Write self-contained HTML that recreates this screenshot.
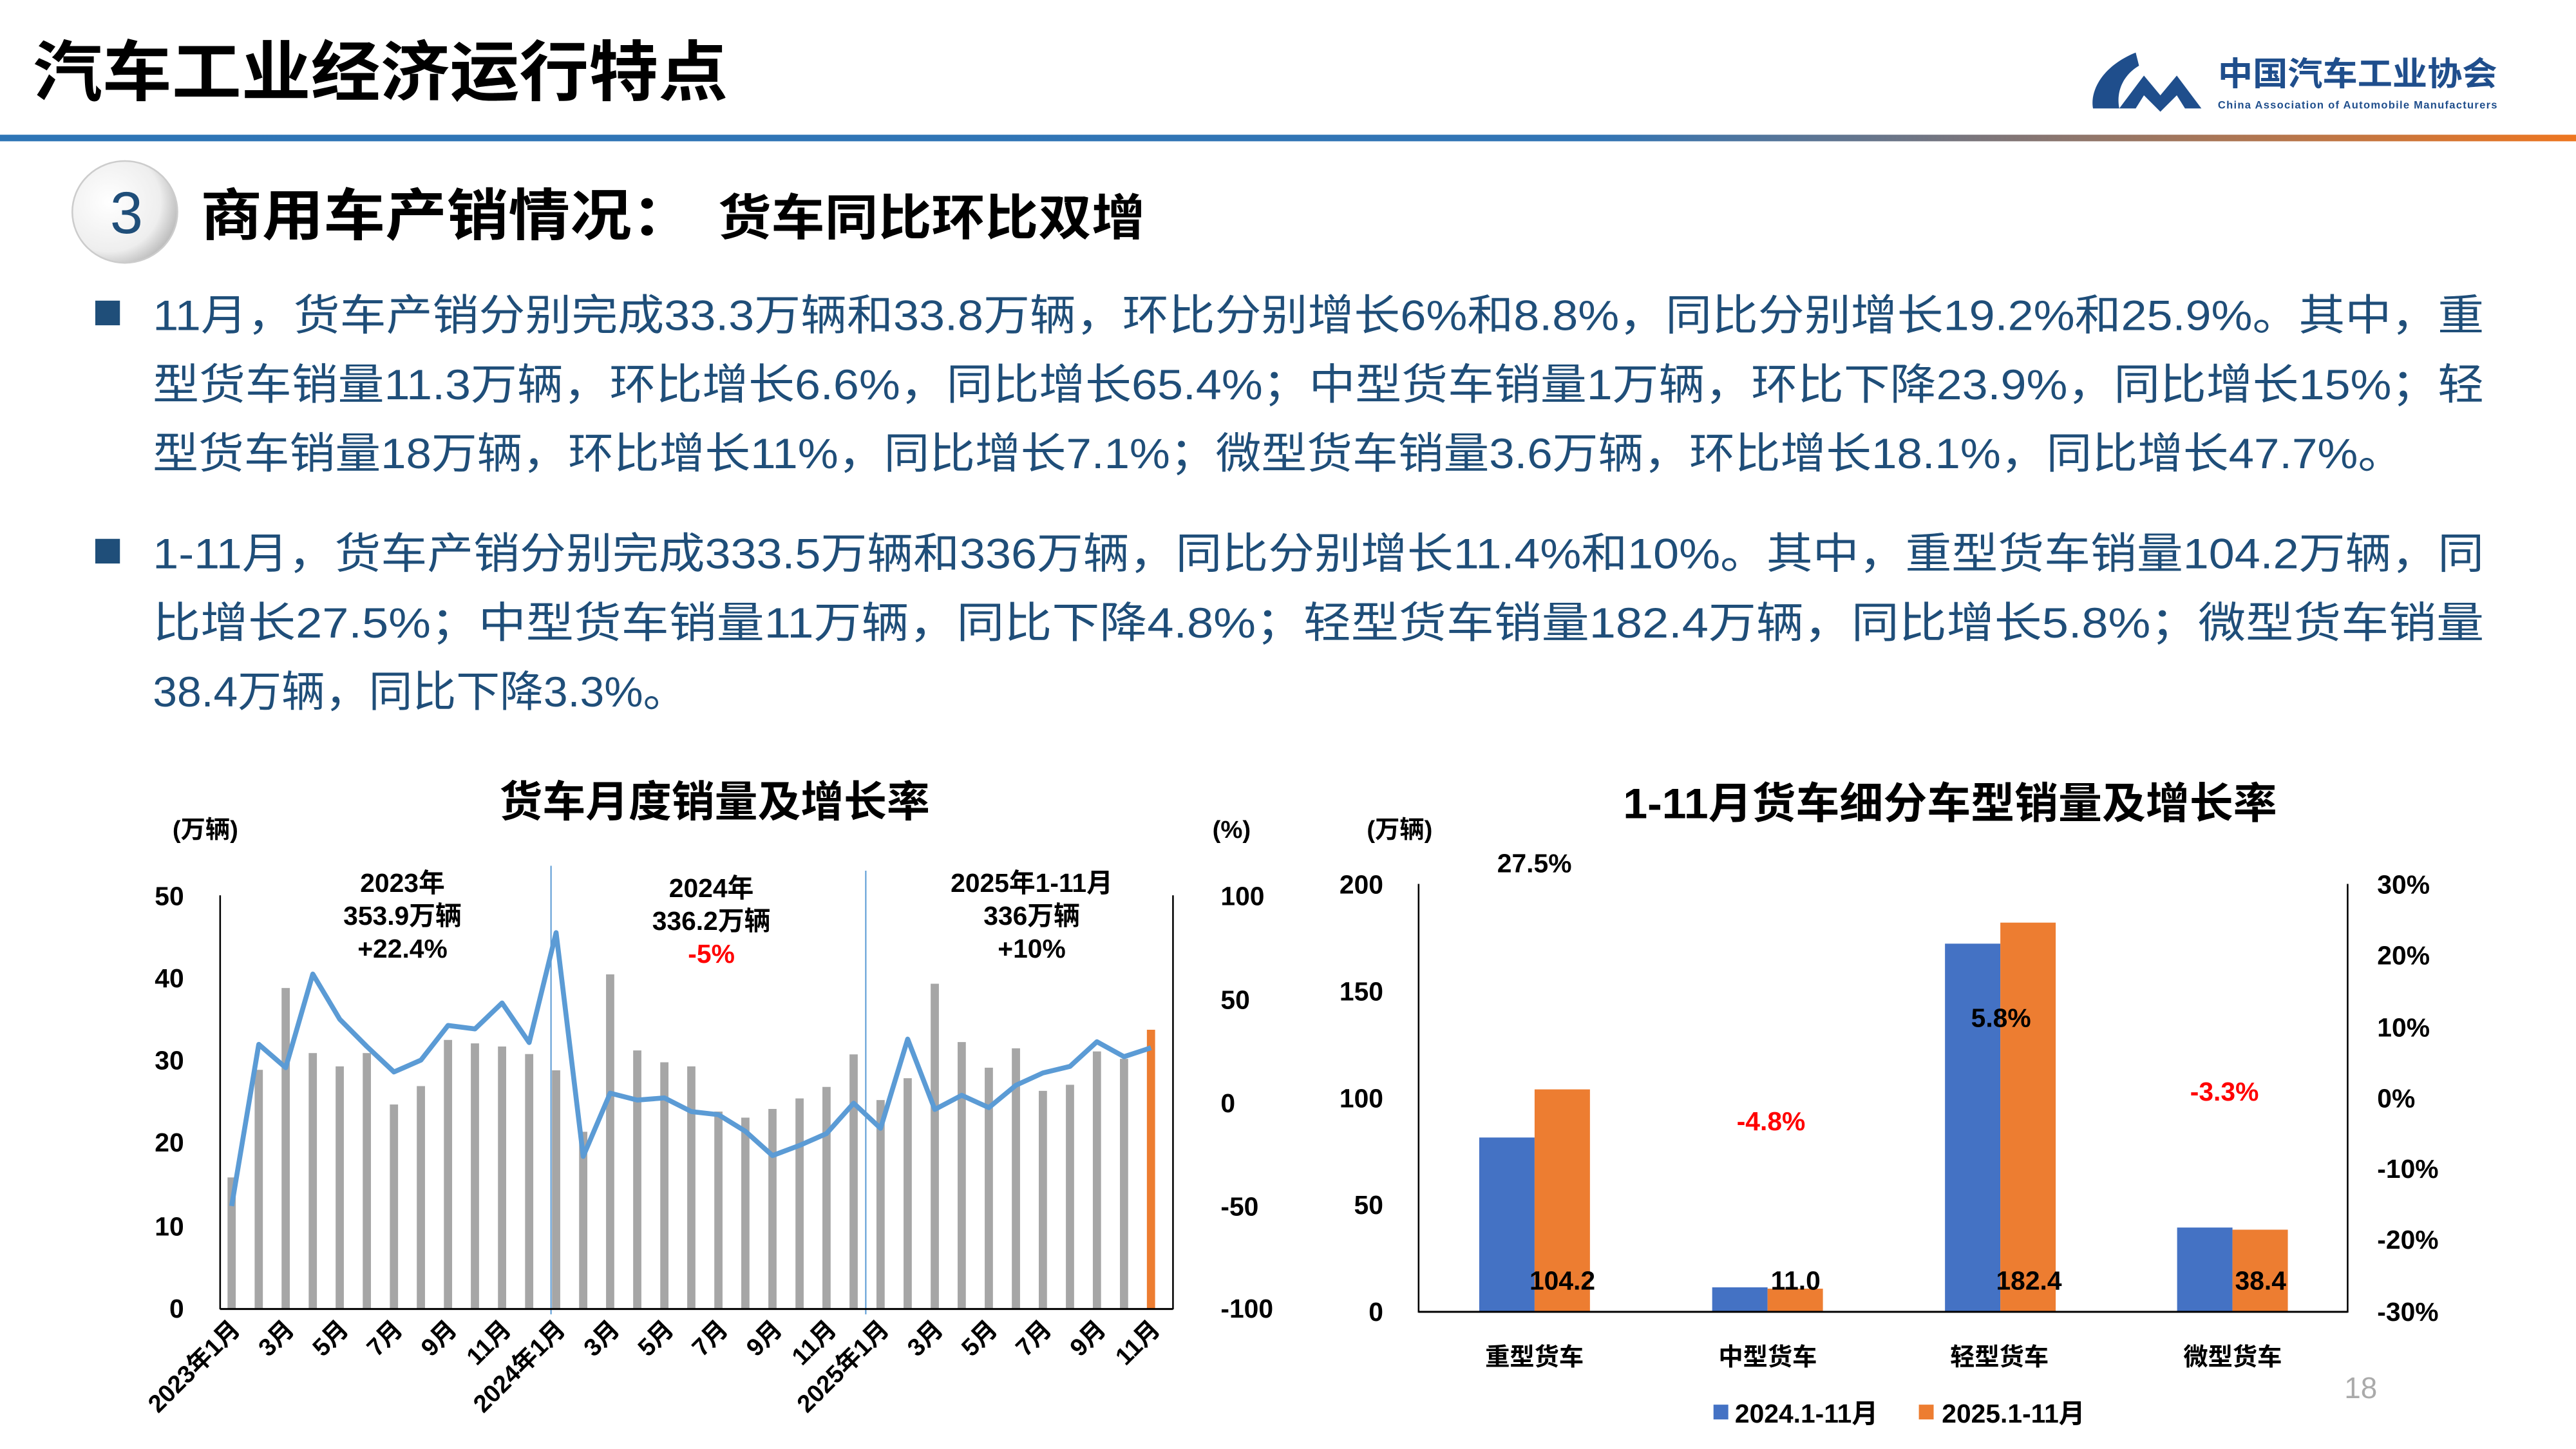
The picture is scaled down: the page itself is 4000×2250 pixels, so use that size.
<!DOCTYPE html>
<html><head><meta charset="utf-8"><style>
html,body{margin:0;padding:0;background:#fff}
svg{display:block}
text{font-family:"Liberation Sans","Noto Sans CJK SC",sans-serif}
</style></head><body>
<svg width="4000" height="2250" viewBox="0 0 1568 882" preserveAspectRatio="none" xmlns="http://www.w3.org/2000/svg">
<defs>
<linearGradient id="bar" x1="0" x2="1" y1="0" y2="0">
<stop offset="0" stop-color="#2e75b6"/><stop offset="0.62" stop-color="#3275b5"/><stop offset="1" stop-color="#ee7620"/></linearGradient>
<radialGradient id="circ" cx="0.35" cy="0.4" r="0.7"><stop offset="0" stop-color="#ffffff"/><stop offset="0.7" stop-color="#eeeeee"/><stop offset="1" stop-color="#b5b5b5"/></radialGradient>
</defs>
<rect width="1568" height="882" fill="#fff"/>
<text x="20" y="58" font-size="40" font-weight="bold" fill="#000" textLength="423" lengthAdjust="spacingAndGlyphs">汽车工业经济运行特点</text>
<path d="M1300 32 C1280 40 1272 55 1274 66 L1290 66 C1288 56 1292 46 1302 40 Z" fill="#1f4e8c"/>
<path d="M1290 66 L1305 46 L1315 58 L1325 46 L1340 66 L1330 66 L1325 58 L1315 68 L1305 58 L1300 66 Z" fill="#1f4e8c"/>
<text x="1350" y="52" font-size="20" font-weight="bold" fill="#1f4e8c" textLength="170" lengthAdjust="spacingAndGlyphs">中国汽车工业协会</text>
<text x="1350" y="66" font-size="6.5" font-weight="bold" fill="#1f4e8c" textLength="170">China Association of Automobile Manufacturers</text>
<rect x="0" y="82" width="1568" height="4" fill="url(#bar)"/>
<ellipse cx="76" cy="129" rx="32" ry="31" fill="url(#circ)" stroke="#ccc" stroke-width="1"/>
<text x="77" y="142" font-size="36" fill="#1f4e79" text-anchor="middle">3</text>
<text x="122" y="143" font-size="34" font-weight="bold" fill="#000" textLength="300" lengthAdjust="spacingAndGlyphs">商用车产销情况：</text>
<text x="437" y="143" font-size="30" font-weight="bold" fill="#000" textLength="260" lengthAdjust="spacingAndGlyphs">货车同比环比双增</text>
<rect x="58" y="183" width="15" height="15" fill="#1f4e79"/>
<rect x="58" y="328" width="15" height="15" fill="#1f4e79"/>
<g font-size="26" fill="#1f4e79">
<text x="93" y="201" textLength="1419" lengthAdjust="spacingAndGlyphs">11月，货车产销分别完成33.3万辆和33.8万辆，环比分别增长6%和8.8%，同比分别增长19.2%和25.9%。其中，重</text>
<text x="93" y="243" textLength="1419" lengthAdjust="spacingAndGlyphs">型货车销量11.3万辆，环比增长6.6%，同比增长65.4%；中型货车销量1万辆，环比下降23.9%，同比增长15%；轻</text>
<text x="93" y="285" textLength="1370" lengthAdjust="spacingAndGlyphs">型货车销量18万辆，环比增长11%，同比增长7.1%；微型货车销量3.6万辆，环比增长18.1%，同比增长47.7%。</text>
<text x="93" y="346" textLength="1419" lengthAdjust="spacingAndGlyphs">1-11月，货车产销分别完成333.5万辆和336万辆，同比分别增长11.4%和10%。其中，重型货车销量104.2万辆，同</text>
<text x="93" y="388" textLength="1419" lengthAdjust="spacingAndGlyphs">比增长27.5%；中型货车销量11万辆，同比下降4.8%；轻型货车销量182.4万辆，同比增长5.8%；微型货车销量</text>
<text x="93" y="430" textLength="325" lengthAdjust="spacingAndGlyphs">38.4万辆，同比下降3.3%。</text>
</g>
<!-- LEFT CHART -->
<text x="435" y="497" font-size="26" font-weight="bold" text-anchor="middle" textLength="262" lengthAdjust="spacingAndGlyphs">货车月度销量及增长率</text>
<text x="105" y="510" font-size="15" font-weight="bold">(万辆)</text>
<text x="738" y="510" font-size="15" font-weight="bold">(%)</text>
<g font-size="16" font-weight="bold" text-anchor="end">
<text x="112" y="551">50</text><text x="112" y="601">40</text><text x="112" y="651">30</text><text x="112" y="701">20</text><text x="112" y="752">10</text><text x="112" y="802">0</text>
</g>
<g font-size="16" font-weight="bold">
<text x="743" y="551">100</text><text x="743" y="614">50</text><text x="743" y="677">0</text><text x="743" y="740">-50</text><text x="743" y="802">-100</text>
</g>
<g fill="#a6a6a6">
<rect x="138.5" y="716.7" width="5" height="79.8"/>
<rect x="155" y="651.2" width="5" height="145.3"/>
<rect x="171.4" y="601.4" width="5" height="195.1"/>
<rect x="187.9" y="641" width="5" height="155.5"/>
<rect x="204.3" y="649.1" width="5" height="147.4"/>
<rect x="220.8" y="641" width="5" height="155.5"/>
<rect x="237.3" y="672.3" width="5" height="124.2"/>
<rect x="253.7" y="661.1" width="5" height="135.4"/>
<rect x="270.2" y="633" width="5" height="163.5"/>
<rect x="286.6" y="635.1" width="5" height="161.4"/>
<rect x="303.1" y="637" width="5" height="159.5"/>
<rect x="319.6" y="641.6" width="5" height="154.9"/>
<rect x="336" y="651.5" width="5" height="145"/>
<rect x="352.5" y="688.9" width="5" height="107.6"/>
<rect x="368.9" y="593.1" width="5" height="203.4"/>
<rect x="385.4" y="639.4" width="5" height="157.1"/>
<rect x="401.9" y="646.6" width="5" height="149.9"/>
<rect x="418.3" y="649.1" width="5" height="147.4"/>
<rect x="434.8" y="676.6" width="5" height="119.9"/>
<rect x="451.2" y="680.3" width="5" height="116.2"/>
<rect x="467.7" y="675" width="5" height="121.5"/>
<rect x="484.2" y="668.6" width="5" height="127.9"/>
<rect x="500.6" y="661.6" width="5" height="134.9"/>
<rect x="517.1" y="641.8" width="5" height="154.7"/>
<rect x="533.5" y="669.6" width="5" height="126.9"/>
<rect x="550" y="656.3" width="5" height="140.2"/>
<rect x="566.5" y="598.8" width="5" height="197.7"/>
<rect x="582.9" y="634.3" width="5" height="162.2"/>
<rect x="599.4" y="649.9" width="5" height="146.6"/>
<rect x="615.9" y="638.1" width="5" height="158.4"/>
<rect x="632.3" y="664" width="5" height="132.5"/>
<rect x="648.8" y="660.3" width="5" height="136.2"/>
<rect x="665.2" y="640" width="5" height="156.5"/>
<rect x="681.7" y="644.5" width="5" height="152"/>
</g>
<rect x="698.1" y="626.8" width="5" height="169.7" fill="#ed7d31"/>
<line x1="335.4" y1="527" x2="335.4" y2="800" stroke="#5b9bd5" stroke-width="0.8"/>
<line x1="527" y1="530" x2="527" y2="800" stroke="#5b9bd5" stroke-width="0.8"/>
<line x1="134" y1="545" x2="134" y2="797" stroke="#000" stroke-width="1"/>
<line x1="714" y1="545" x2="714" y2="797" stroke="#000" stroke-width="1"/>
<line x1="134" y1="796.8" x2="714" y2="796.8" stroke="#000" stroke-width="1.2"/>
<polyline fill="none" stroke="#5b9bd5" stroke-width="3" stroke-linejoin="round" points="141,734.1 157.5,635.7 173.9,649.9 190.4,592.9 206.8,620.4 223.3,637 239.8,652.5 256.2,645.3 272.7,624.2 289.1,626.3 305.6,610.5 322.1,634.6 338.5,567.7 355,703.9 371.4,665.4 387.9,669.6 404.4,668.3 420.8,676.6 437.3,678.5 453.7,688.6 470.2,703.4 486.7,697.2 503.1,690 519.6,671.5 536,686.8 552.5,632.5 569,675.3 585.4,666.7 601.9,674.2 618.4,660.6 634.8,653.1 651.3,649.1 667.7,634.1 684.2,643.2 700.6,637.8"/>
<g font-size="16" font-weight="bold" text-anchor="middle">
<text x="245" y="543">2023年</text><text x="245" y="563">353.9万辆</text><text x="245" y="583">+22.4%</text>
<text x="433" y="546">2024年</text><text x="433" y="566">336.2万辆</text><text x="433" y="586" fill="#ff0000">-5%</text>
<text x="628" y="543">2025年1-11月</text><text x="628" y="563">336万辆</text><text x="628" y="583">+10%</text>
</g>
<g font-size="15" font-weight="bold" text-anchor="end">
<text transform="translate(147,810) rotate(-45)">2023年1月</text>
<text transform="translate(180,810) rotate(-45)">3月</text>
<text transform="translate(213,810) rotate(-45)">5月</text>
<text transform="translate(246,810) rotate(-45)">7月</text>
<text transform="translate(279,810) rotate(-45)">9月</text>
<text transform="translate(312,810) rotate(-45)">11月</text>
<text transform="translate(345,810) rotate(-45)">2024年1月</text>
<text transform="translate(378,810) rotate(-45)">3月</text>
<text transform="translate(411,810) rotate(-45)">5月</text>
<text transform="translate(444,810) rotate(-45)">7月</text>
<text transform="translate(477,810) rotate(-45)">9月</text>
<text transform="translate(510,810) rotate(-45)">11月</text>
<text transform="translate(542,810) rotate(-45)">2025年1月</text>
<text transform="translate(575,810) rotate(-45)">3月</text>
<text transform="translate(608,810) rotate(-45)">5月</text>
<text transform="translate(641,810) rotate(-45)">7月</text>
<text transform="translate(674,810) rotate(-45)">9月</text>
<text transform="translate(707,810) rotate(-45)">11月</text>
</g>
<!-- RIGHT CHART -->
<text x="1187" y="498" font-size="26" font-weight="bold" text-anchor="middle" textLength="398" lengthAdjust="spacingAndGlyphs">1-11月货车细分车型销量及增长率</text>
<text x="832" y="510" font-size="15" font-weight="bold">(万辆)</text>
<g font-size="16" font-weight="bold" text-anchor="end">
<text x="842" y="544">200</text><text x="842" y="609">150</text><text x="842" y="674">100</text><text x="842" y="739">50</text><text x="842" y="804">0</text>
</g>
<g font-size="16" font-weight="bold">
<text x="1447" y="544">30%</text><text x="1447" y="587">20%</text><text x="1447" y="631">10%</text><text x="1447" y="674">0%</text><text x="1447" y="717">-10%</text><text x="1447" y="760">-20%</text><text x="1447" y="804">-30%</text>
</g>
<g fill="#4472c4">
<rect x="900.4" y="692.4" width="33.7" height="105.9"/>
<rect x="1042.2" y="783.6" width="33.7" height="14.7"/>
<rect x="1183.9" y="574.4" width="33.7" height="223.9"/>
<rect x="1325.2" y="747.2" width="33.7" height="51.1"/>
</g>
<g fill="#ed7d31">
<rect x="934.1" y="663.1" width="33.7" height="135.2"/>
<rect x="1075.9" y="784.4" width="33.7" height="13.9"/>
<rect x="1217.6" y="561.6" width="33.7" height="236.7"/>
<rect x="1358.9" y="748.5" width="33.7" height="49.8"/>
</g>
<line x1="863.5" y1="538" x2="863.5" y2="799" stroke="#000" stroke-width="1"/>
<line x1="1429" y1="538" x2="1429" y2="799" stroke="#000" stroke-width="1"/>
<line x1="863.5" y1="798.5" x2="1429" y2="798.5" stroke="#000" stroke-width="1.2"/>
<g font-size="16" text-anchor="middle" font-weight="bold">
<text x="951" y="785">104.2</text><text x="1093" y="785">11.0</text><text x="1235" y="785">182.4</text><text x="1376" y="785">38.4</text>
<text x="934" y="531">27.5%</text><text x="1078" y="688" fill="#ff0000">-4.8%</text><text x="1218" y="625">5.8%</text><text x="1354" y="670" fill="#ff0000">-3.3%</text>
</g>
<g font-size="15" font-weight="bold" text-anchor="middle">
<text x="934" y="831">重型货车</text><text x="1076" y="831">中型货车</text><text x="1217" y="831">轻型货车</text><text x="1359" y="831">微型货车</text>
</g>
<rect x="1043" y="855" width="9" height="9" fill="#4472c4"/>
<text x="1056" y="866" font-size="16" font-weight="bold">2024.1-11月</text>
<rect x="1168" y="855" width="9" height="9" fill="#ed7d31"/>
<text x="1182" y="866" font-size="16" font-weight="bold">2025.1-11月</text>
<text x="1437" y="851" font-size="18" fill="#aaaaaa" text-anchor="middle">18</text>
</svg>
</body></html>
